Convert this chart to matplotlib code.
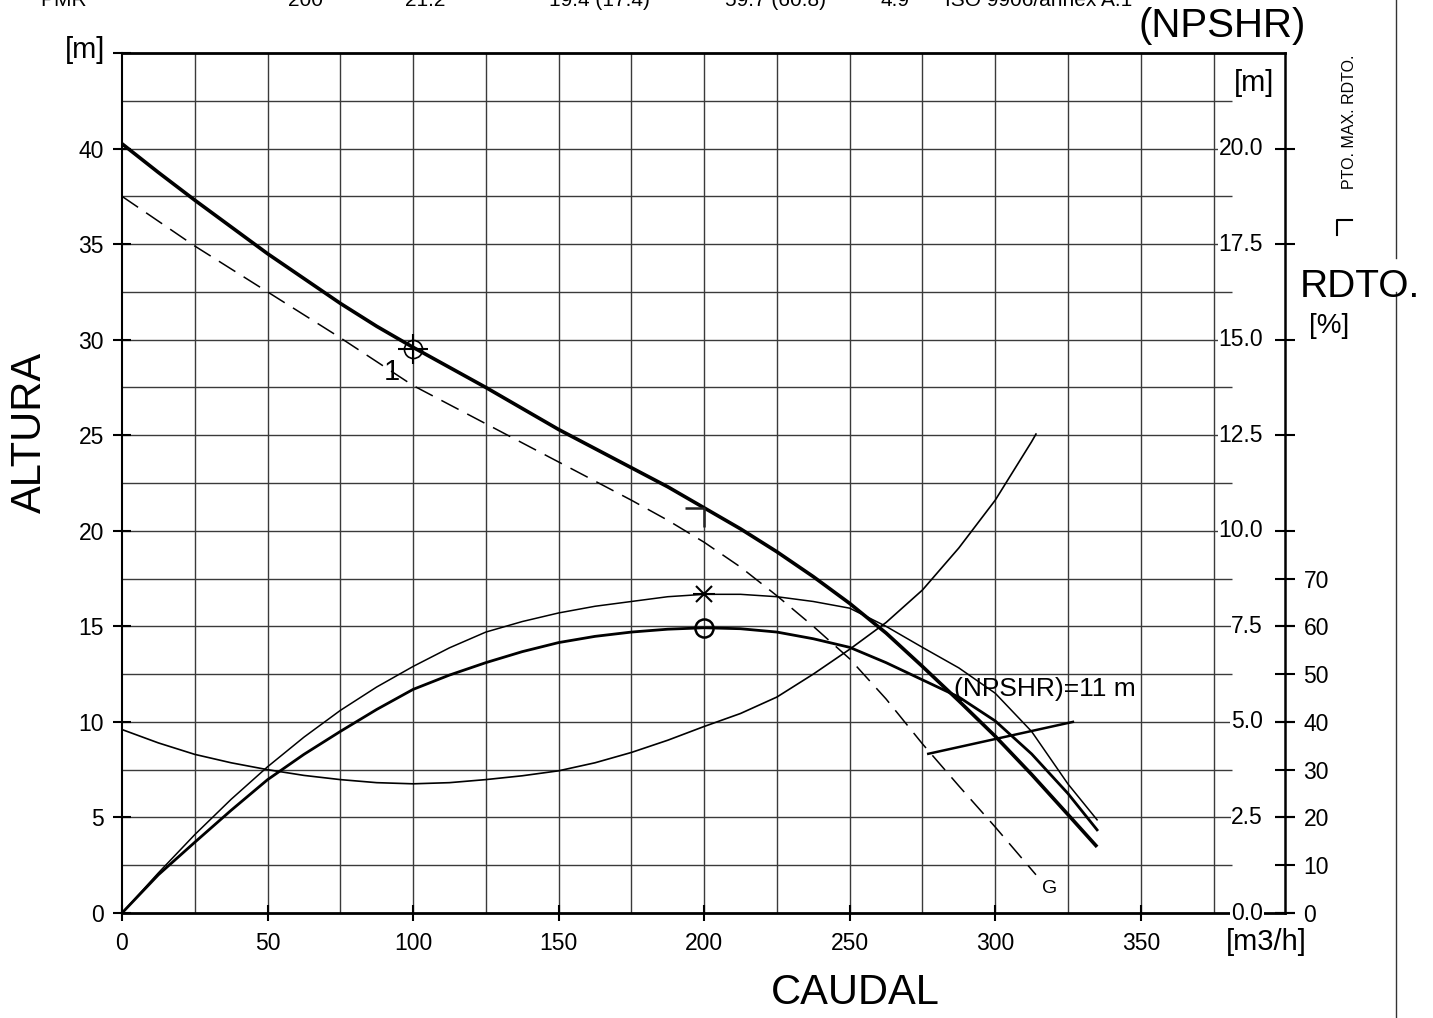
import numpy as np
import matplotlib
matplotlib.use("Agg")
import matplotlib.pyplot as plt
from matplotlib.path import Path
from matplotlib.lines import Line2D

plt.rcParams['font.family'] = ['Liberation Sans', 'DejaVu Sans']
plt.rcParams['lines.scale_dashes'] = False

# ---------------- data ----------------
# Head curve (solid thick)  [m3/h], [m]
q_head = [0, 12.5, 25, 37.5, 50, 62.5, 75, 87.5, 100, 112.5, 125, 137.5, 150, 162.5, 175,
          187.5, 200, 212.5, 225, 237.5, 250, 262.5, 275, 287.5, 300, 312.5, 325, 335]
h_head = [40.25, 38.75, 37.3, 35.9, 34.5, 33.2, 31.9, 30.7, 29.6, 28.55, 27.5, 26.4, 25.3, 24.3, 23.3,
          22.3, 21.2, 20.1, 18.9, 17.6, 16.2, 14.65, 12.9, 11.1, 9.25, 7.25, 5.15, 3.46]

# Reduced curve "G" (dashed)
q_g = [0, 12.5, 25, 37.5, 50, 62.5, 75, 87.5, 100, 112.5, 125, 137.5, 150, 162.5, 175,
       187.5, 200, 212.5, 225, 237.5, 250, 262.5, 275, 287.5, 300, 314]
h_g = [37.5, 36.2, 34.9, 33.7, 32.5, 31.3, 30.1, 28.85, 27.6, 26.6, 25.6, 24.6, 23.6, 22.6, 21.6,
       20.55, 19.4, 18.1, 16.6, 15.0, 13.3, 11.2, 8.85, 6.65, 4.5, 2.0]

# Efficiency curves [%]
q_eta = [0, 12.5, 25, 37.5, 50, 62.5, 75, 87.5, 100, 112.5, 125, 137.5, 150, 162.5, 175,
         187.5, 200, 212.5, 225, 237.5, 250, 262.5, 275, 287.5, 300, 312.5, 325, 335]
eta_main = [0, 8.0, 14.8, 21.5, 27.9, 33.2, 38.0, 42.6, 46.8, 49.8, 52.4, 54.7, 56.6, 57.9, 58.8,
            59.4, 59.7, 59.5, 58.8, 57.4, 55.6, 52.4, 48.8, 45.2, 40.2, 33.3, 25.0, 17.4]
eta_thin = [0, 8.4, 16.4, 23.8, 30.6, 36.8, 42.4, 47.3, 51.6, 55.5, 58.8, 61.0, 62.8, 64.2, 65.2,
            66.2, 66.7, 66.7, 66.2, 65.2, 63.8, 60.0, 55.6, 51.3, 46.0, 38.0, 27.0, 19.5]

# NPSHR [m]
q_npsh = [0, 12.5, 25, 37.5, 50, 62.5, 75, 87.5, 100, 112.5, 125, 137.5, 150, 162.5, 175,
          187.5, 200, 212.5, 225, 237.5, 250, 262.5, 275, 287.5, 300, 312.5, 314]
npsh = [4.8, 4.45, 4.15, 3.93, 3.75, 3.6, 3.49, 3.41, 3.38, 3.41, 3.49, 3.59, 3.72, 3.93, 4.2,
        4.52, 4.88, 5.22, 5.65, 6.25, 6.9, 7.6, 8.45, 9.55, 10.8, 12.33, 12.53]

# NPSHR = 11 m indicator segment
q_ind = [277, 326.7]
h_ind = [8.33, 10.0]

# Special points
duty_q, duty_h = 100, 29.5
bep_q, bep_h = 200, 21.2
bep_eta, bep_eta2 = 59.7, 66.7

x_ticks = [0, 50, 100, 150, 200, 250, 300, 350]
h_ticks = [0, 5, 10, 15, 20, 25, 30, 35, 40, 45]
h_ticklabels = ['0', '5', '10', '15', '20', '25', '30', '35', '40', '']
npsh_ticks = [0, 2.5, 5.0, 7.5, 10.0, 12.5, 15.0, 17.5, 20.0]
eta_ticks = [0, 10, 20, 30, 40, 50, 60, 70]

header = [("PMR", 40), ("200", 288), ("21.2", 405), ("19.4 (17.4)", 549),
          ("59.7 (60.8)", 725), ("4.9", 880), ("ISO 9906/annex A.1", 945)]

# ---------------- figure ----------------
W, H = 1433, 1018
fig = plt.figure(figsize=(W / 100, H / 100), dpi=100)

def fx(px):
    return px / W

def fy(py):
    return 1 - py / H

x0, x1, y0, y1 = 122, 1285, 53, 913
ax = fig.add_axes([fx(x0), fy(y1), fx(x1) - fx(x0), fy(y0) - fy(y1)])
xmax = (x1 - x0) / 2.9107
ax.set_xlim(0, xmax)
ax.set_ylim(0, 45)

gridc = '#3a3a3a'
ax.vlines(np.arange(25, 376, 25), 0, 45, colors=gridc, lw=1.0, zorder=1)
ax.hlines(np.arange(2.5, 45, 2.5), 0, 381.4, colors=gridc, lw=1.0, zorder=1)

for s in ['left', 'right', 'top', 'bottom']:
    ax.spines[s].set_color('black')
ax.spines['left'].set_linewidth(1.5)
ax.spines['bottom'].set_linewidth(2.0)
ax.spines['top'].set_linewidth(2.0)
ax.spines['right'].set_linewidth(1.8)

TS = 16.5
ax.set_xticks(x_ticks)
ax.set_xticklabels([str(v) for v in x_ticks])
ax.set_yticks(h_ticks)
ax.set_yticklabels(h_ticklabels)
ax.tick_params(axis='x', direction='inout', length=11.5, width=1.5, labelsize=TS, pad=8)
ax.tick_params(axis='y', left=True, right=False, direction='inout', length=13, width=1.5,
               labelsize=TS, pad=6.5)

# curves on head axis
ax.plot(q_head, h_head, color='black', lw=2.6, solid_capstyle='butt', zorder=5)
ax.plot(q_g, h_g, color='black', lw=1.1, dashes=(14, 7), zorder=4)
ax.plot(q_ind, h_ind, color='black', lw=1.8, zorder=5)

# duty point: circle with cross
ax.plot([duty_q], [duty_h], marker='o', ms=13, mfc='none', mec='black', mew=1.2, zorder=6)
ax.plot([duty_q], [duty_h], marker='+', ms=22, mec='black', mew=1.5, zorder=6)
# BEP marker on head curve
bep_marker = Path([(-1, 0), (0, 0), (0, -1)], [Path.MOVETO, Path.LINETO, Path.LINETO])
ax.plot([bep_q], [bep_h], marker=bep_marker, ms=28, mfc='none', mec='#222222', mew=1.8, zorder=6)

ax.text(92.8, 28.3, "1", fontsize=21, ha='center', va='center', zorder=7)
ax.text(318.8, 1.3, "G", fontsize=14, ha='center', va='center', zorder=7)
ax.text(286.0, 11.7, "(NPSHR)=11 m", fontsize=19, ha='left', va='center', zorder=7)

# NPSH axis
ax_n = ax.twinx()
ax_n.set_ylim(0, 22.5)
for s in ax_n.spines.values():
    s.set_visible(False)
ax_n.set_yticks(npsh_ticks)
ax_n.tick_params(axis='y', right=True, left=False, direction='inout', length=13.7, width=1.5,
                 labelright=False)
ax_n.plot(q_npsh, npsh, color='black', lw=1.2, zorder=4)
for v in npsh_ticks:
    ax_n.text(392.0, v, f"{v:.1f}", fontsize=TS, ha='right', va='center',
              bbox=dict(facecolor='white', edgecolor='none', pad=0.5), zorder=8)

# efficiency axis
ax_e = ax.twinx()
ax_e.set_ylim(0, 180)
for s in ax_e.spines.values():
    s.set_visible(False)
ax_e.set_yticks(eta_ticks)
ax_e.set_yticklabels([str(v) for v in eta_ticks])
ax_e.tick_params(axis='y', right=True, left=False, direction='inout', length=13.7, width=1.5,
                 labelsize=TS, pad=6.5)
ax_e.plot(q_eta, eta_main, color='black', lw=2.0, zorder=5)
ax_e.plot(q_eta, eta_thin, color='black', lw=1.1, zorder=5)
ax_e.plot([bep_q], [bep_eta], marker='o', ms=13, mfc='none', mec='black', mew=1.8, zorder=6)
ax_e.plot([bep_q], [bep_eta2], marker='x', ms=11, mec='black', mew=1.5, zorder=6)
ax_e.plot([bep_q], [bep_eta2], marker='_', ms=16, mec='black', mew=1.5, zorder=6)

# ---------------- labels ----------------
fig.text(fx(85), fy(50), "[m]", fontsize=21, ha='center', va='center')
fig.text(fx(1266), fy(942), "[m3/h]", fontsize=21, ha='center', va='center')
fig.text(fx(855), fy(993), "CAUDAL", fontsize=30, ha='center', va='center')
fig.text(fx(30), fy(432), "ALTURA", fontsize=30, ha='center', va='center', rotation=90)
fig.text(fx(1222), fy(26), "(NPSHR)", fontsize=29, ha='center', va='center')
fig.text(fx(1254), fy(83), "[m]", fontsize=21, ha='center', va='center')
fig.text(fx(1360), fy(287), "RDTO.", fontsize=28, ha='center', va='center')
fig.text(fx(1329), fy(326), "[%]", fontsize=20, ha='center', va='center')
fig.text(fx(1349), fy(122), "PTO. MAX. RDTO.", fontsize=11.5, ha='center', va='center', rotation=90)

for txt, px in header:
    fig.text(fx(px), fy(6), txt, fontsize=15, ha='left', va='baseline')

# legend symbol and right border line
fig.add_artist(Line2D([fx(1337), fx(1337), fx(1352)], [fy(235), fy(220), fy(220)],
                      color='black', lw=1.5))
fig.add_artist(Line2D([fx(1396), fx(1396)], [fy(0), fy(258)], color='#333333', lw=1.0))
fig.add_artist(Line2D([fx(1396), fx(1396)], [fy(292), fy(1018)], color='#333333', lw=1.0))

fig.savefig("out.png", dpi=100)
